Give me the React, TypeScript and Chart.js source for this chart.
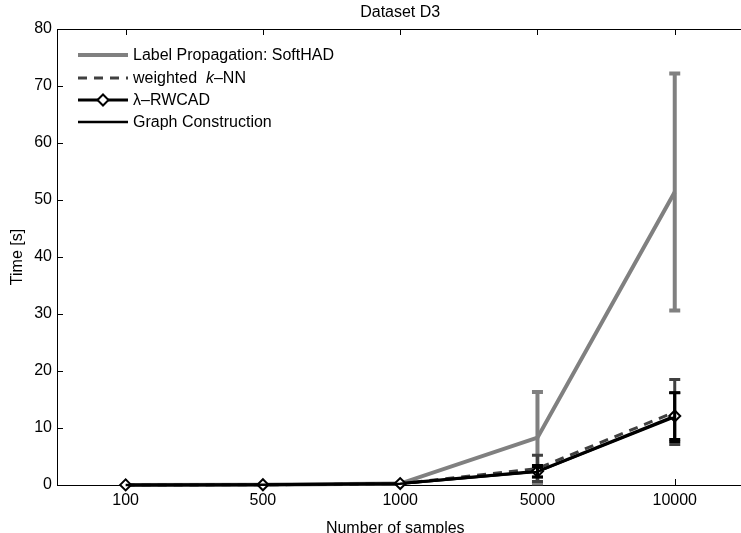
import React, { useEffect, useRef } from 'react';
import { Chart, registerables } from 'chart.js';

Chart.register(...registerables);

// ---- data ----
const categories = ['100', '500', '1000', '5000', '10000'];
const softHAD = [0.02, 0.05, 0.25, 8.3, 51.4];
const softHADErr = [0, 0, 0, 8.0, 20.8];
const knn = [0.01, 0.03, 0.2, 2.9, 12.8];
const knnErr = [0, 0, 0, 2.3, 5.7];
const rwcad = [0.02, 0.04, 0.25, 2.4, 12.1];
const rwcadErr = [0, 0, 0, 1.0, 4.1];
const graphC = [0.01, 0.03, 0.2, 2.3, 11.9];
const graphCErr = [0, 0, 0, 0.9, 4.3];
const yTicks = [0, 10, 20, 30, 40, 50, 60, 70, 80];

const titleText = 'Dataset D3';
const xTitle = 'Number of samples';
const yTitle = 'Time [s]';

const FONT = "'Liberation Sans', Arial, Helvetica, sans-serif";

const toPts = (arr: number[]) => arr.map((v, i) => ({ x: i, y: v }));

export default function App() {
  const ref = useRef<HTMLCanvasElement>(null);

  useEffect(() => {
    const canvas = ref.current!;
    const errs = [softHADErr, knnErr, rwcadErr, graphCErr];
    const errWidths = [4, 3, 3, 2.5];

    const errorBars = {
      id: 'errorBars',
      afterDatasetDraw(chart: any, args: any) {
        const i = args.index;
        const ds: any = chart.data.datasets[i];
        const e = errs[i];
        const xs = chart.scales.x;
        const ys = chart.scales.y;
        const c = chart.ctx;
        c.save();
        c.strokeStyle = ds.borderColor;
        c.lineWidth = errWidths[i];
        c.setLineDash([]);
        c.lineCap = 'butt';
        ds.data.forEach((p: any, j: number) => {
          if (!e[j]) return;
          const x = xs.getPixelForValue(p.x);
          const yT = ys.getPixelForValue(p.y + e[j]);
          const yB = ys.getPixelForValue(p.y - e[j]);
          const cw = 5.5;
          c.beginPath();
          c.moveTo(x, yT);
          c.lineTo(x, yB);
          c.moveTo(x - cw, yT);
          c.lineTo(x + cw, yT);
          c.moveTo(x - cw, yB);
          c.lineTo(x + cw, yB);
          c.stroke();
        });
        c.restore();
      },
    };

    const axesBox = {
      id: 'axesBox',
      beforeDatasetsDraw(chart: any) {
        const { ctx: c, chartArea: a, scales } = chart;
        const xs = scales.x;
        const ys = scales.y;
        c.save();
        c.strokeStyle = '#000';
        c.lineWidth = 1;
        c.beginPath();
        c.moveTo(a.left + 0.5, a.top + 0.5);
        c.lineTo(a.left + 0.5, a.bottom + 0.5);
        c.moveTo(a.left, a.bottom + 0.5);
        c.lineTo(741, a.bottom + 0.5);
        c.moveTo(a.left, a.top + 0.5);
        c.lineTo(741, a.top + 0.5);
        const tl = 6;
        yTicks.forEach((v) => {
          const y = Math.round(ys.getPixelForValue(v)) + 0.5;
          c.moveTo(a.left, y);
          c.lineTo(a.left + tl, y);
        });
        categories.forEach((_, i) => {
          const x = Math.round(xs.getPixelForValue(i)) + 0.5;
          c.moveTo(x, a.bottom);
          c.lineTo(x, a.bottom - tl);
          c.moveTo(x, a.top);
          c.lineTo(x, a.top + tl);
        });
        c.stroke();
        c.restore();
      },
      afterDraw(chart: any) {
        const { ctx: c, chartArea: a, scales } = chart;
        const xs = scales.x;
        c.save();
        c.fillStyle = '#000';
        c.font = `16px ${FONT}`;
        c.textAlign = 'center';
        c.textBaseline = 'middle';
        c.fillText(titleText, xs.getPixelForValue(2), 13);

        // legend
        const lx0 = a.left + 21;
        const lx1 = a.left + 71;
        const tx = a.left + 76;
        const rows = [a.top + 26, a.top + 49, a.top + 71, a.top + 93];
        const dsets = chart.data.datasets;
        c.textAlign = 'left';
        rows.forEach((y, i) => {
          const ds: any = dsets[i];
          c.save();
          c.strokeStyle = ds.borderColor;
          c.lineWidth = ds.borderWidth;
          c.setLineDash(ds.borderDash || []);
          c.beginPath();
          c.moveTo(lx0, y);
          c.lineTo(lx1, y);
          c.stroke();
          c.setLineDash([]);
          if (i === 2) {
            const cx = (lx0 + lx1) / 2;
            const r = 5.5;
            c.beginPath();
            c.moveTo(cx - r, y);
            c.lineTo(cx, y - r);
            c.lineTo(cx + r, y);
            c.lineTo(cx, y + r);
            c.closePath();
            c.fillStyle = '#fff';
            c.fill();
            c.lineWidth = 2;
            c.strokeStyle = '#000';
            c.stroke();
          }
          c.restore();
          c.fillStyle = '#000';
          if (i === 1) {
            let x = tx;
            c.font = `16px ${FONT}`;
            const p1 = 'weighted  ';
            c.fillText(p1, x, y + 1);
            x += c.measureText(p1).width;
            c.font = `italic 16px ${FONT}`;
            c.fillText('k', x, y + 1);
            x += c.measureText('k').width;
            c.font = `16px ${FONT}`;
            c.fillText('\u2013NN', x, y + 1);
          } else {
            c.font = `16px ${FONT}`;
            c.fillText(ds.label, tx, y + 1);
          }
        });
        c.restore();
      },
    };

    const chart = new Chart(canvas, {
      type: 'line',
      data: {
        datasets: [
          {
            label: 'Label Propagation: SoftHAD',
            data: toPts(softHAD),
            borderColor: '#808080',
            borderWidth: 4,
            pointRadius: 0,
            order: 4,
            clip: false as any,
          },
          {
            label: 'weighted k\u2013NN',
            data: toPts(knn),
            borderColor: '#404040',
            borderWidth: 3,
            borderDash: [9, 7],
            pointRadius: 0,
            order: 3,
            clip: false as any,
          },
          {
            label: '\u03bb\u2013RWCAD',
            data: toPts(rwcad),
            borderColor: '#000000',
            borderWidth: 3,
            pointStyle: 'rectRot',
            pointRadius: 5.5,
            pointBackgroundColor: '#ffffff',
            pointBorderColor: '#000000',
            pointBorderWidth: 2,
            order: 2,
            clip: false as any,
          },
          {
            label: 'Graph Construction',
            data: toPts(graphC),
            borderColor: '#000000',
            borderWidth: 2.5,
            pointRadius: 0,
            order: 1,
            clip: false as any,
          },
        ] as any,
      },
      options: {
        animation: false,
        responsive: false,
        devicePixelRatio: 1,
        layout: { padding: { top: 29, left: 0, right: 0, bottom: 0 } },
        elements: { line: { tension: 0 } },
        plugins: {
          legend: { display: false },
          title: { display: false },
          tooltip: { enabled: false },
        },
        scales: {
          x: {
            type: 'linear',
            min: -0.5,
            max: 4.428,
            grid: { display: false, drawTicks: false },
            border: { display: false },
            afterFit: (s: any) => {
              s.height = 48;
            },
            afterBuildTicks: (s: any) => {
              s.ticks = categories.map((_, i) => ({ value: i }));
            },
            ticks: {
              padding: 6,
              color: '#000',
              font: { size: 16, family: FONT },
              maxRotation: 0,
              autoSkip: false,
              callback: (v: any) => categories[Number(v)] ?? '',
            },
            title: {
              display: true,
              text: xTitle,
              color: '#000',
              font: { size: 16, family: FONT },
              padding: { top: 0, bottom: -5 },
            },
          },
          y: {
            type: 'linear',
            min: 0,
            max: 80,
            grid: { display: false, drawTicks: false },
            border: { display: false },
            afterFit: (s: any) => {
              s.width = 57;
            },
            afterBuildTicks: (s: any) => {
              s.ticks = yTicks.map((v) => ({ value: v }));
            },
            ticks: {
              padding: 5,
              color: '#000',
              font: { size: 16, family: FONT },
            },
            title: {
              display: true,
              text: yTitle,
              color: '#000',
              font: { size: 16, family: FONT },
              padding: { top: 8, bottom: 0 },
            },
          },
        },
      },
      plugins: [errorBars, axesBox],
    } as any);

    return () => chart.destroy();
  }, []);

  return (
    <div
      style={{
        position: 'fixed',
        left: 0,
        top: 0,
        width: 741,
        height: 533,
        overflow: 'hidden',
        background: '#fff',
      }}
    >
      <canvas ref={ref} width={741} height={533} style={{ display: 'block', width: 741, height: 533 }} />
    </div>
  );
}
